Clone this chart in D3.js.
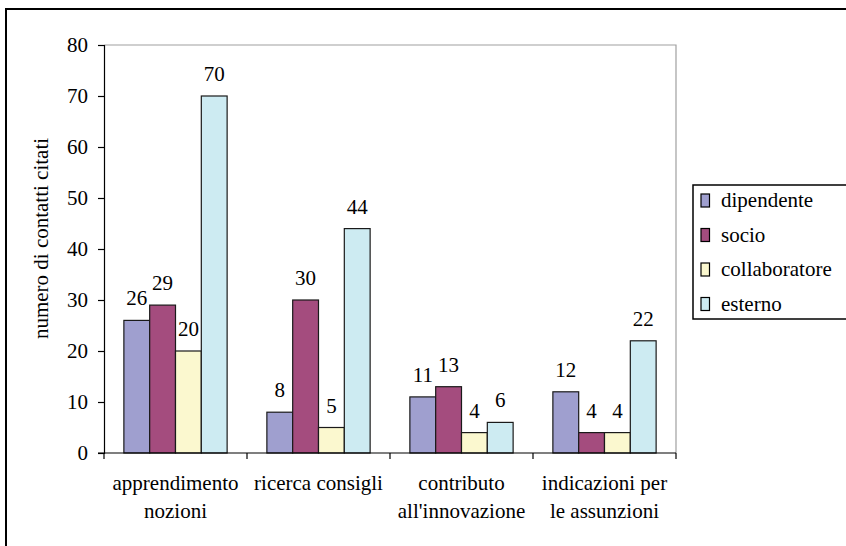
<!DOCTYPE html>
<html><head><meta charset="utf-8">
<script src="https://cdn.jsdelivr.net/npm/d3@7"></script>
<style>
body{margin:0;background:#fff;}
svg text{font-family:"Liberation Serif","Times New Roman",Times,"Nimbus Roman","DejaVu Serif",serif !important;fill:#000;}
</style></head>
<body><svg id="c" width="846" height="546"></svg>
<script>
const categories = [["apprendimento","nozioni"],["ricerca consigli"],["contributo","all'innovazione"],["indicazioni per","le assunzioni"]];
const categoryKeys = ["apprendimento nozioni","ricerca consigli","contributo all'innovazione","indicazioni per le assunzioni"];
const seriesNames = ["dipendente","socio","collaboratore","esterno"];
const dipendente = [26, 8, 11, 12];
const socio = [29, 30, 13, 4];
const collaboratore = [20, 5, 4, 4];
const esterno = [70, 44, 6, 22];
const yTicks = [0,10,20,30,40,50,60,70,80];
const colors = ["#9f9fcf","#a44c7e","#fbf8cf","#cdebf2"];
const values = [dipendente, socio, collaboratore, esterno];
const FONT = "'Liberation Serif','Times New Roman',Times,serif";

const svg = d3.select("#c");
svg.append("rect").attr("x",6).attr("y",9).attr("width",900).attr("height",600)
  .attr("fill","none").attr("stroke","#000").attr("stroke-width",2);

const L=104,R=676,T=45,B=453;
const x0 = d3.scaleBand().domain(categoryKeys).range([L,R]).padding(0);
const x1 = d3.scaleBand().domain(seriesNames).range([0,x0.bandwidth()]).paddingInner(0).paddingOuter(0.77);
const y = d3.scaleLinear().domain([0,80]).range([B,T]);

svg.append("path").attr("d",`M${L},${T}H${R}V${B}`).attr("fill","none").attr("stroke","#a0a0a0").attr("stroke-width",1.2);

categoryKeys.forEach((c,ci)=>{
  const g = svg.append("g").attr("transform",`translate(${x0(c)},0)`);
  seriesNames.forEach((s,si)=>{
    const v = values[si][ci];
    g.append("rect").attr("x",x1(s)).attr("y",y(v)).attr("width",x1.bandwidth()).attr("height",y(0)-y(v))
      .attr("fill",colors[si]).attr("stroke","#1a1a1a").attr("stroke-width",1.2);
    g.append("text").attr("x",x1(s)+x1.bandwidth()/2).attr("y",y(v)-15).attr("text-anchor","middle")
      .style("font-family",FONT).attr("font-size",21).text(v);
  });
});

const ya = svg.append("g").attr("transform",`translate(${L},0)`)
  .call(d3.axisLeft(y).tickValues(yTicks).tickSize(6).tickPadding(10).tickFormat(d3.format("d")));
ya.attr("font-family",null);
ya.select(".domain").attr("stroke","#000").attr("stroke-width",1.2);
ya.selectAll(".tick line").attr("stroke","#000").attr("stroke-width",1.2);
ya.selectAll(".tick text").attr("font-size",21).style("font-family",FONT).attr("fill","#000");

svg.append("line").attr("x1",L-6).attr("x2",R).attr("y1",B).attr("y2",B).attr("stroke","#000").attr("stroke-width",1.2);
const bounds = categoryKeys.map(c=>x0(c)).concat([x0(categoryKeys[3])+x0.bandwidth()]);
svg.selectAll(".xt").data(bounds).enter().append("line")
  .attr("x1",d=>d).attr("x2",d=>d).attr("y1",B).attr("y2",B+6).attr("stroke","#000").attr("stroke-width",1.2);
categoryKeys.forEach((c,ci)=>{
  const t = svg.append("text").attr("text-anchor","middle").attr("font-size",21).style("font-family",FONT);
  categories[ci].forEach((line,li)=>{
    t.append("tspan").attr("x",x0(c)+x0.bandwidth()/2).attr("y",490+li*28).text(line);
  });
});

svg.append("text").attr("transform","translate(48,238.5) rotate(-90)").attr("text-anchor","middle")
  .style("font-family",FONT).attr("font-size",21).text("numero di contatti citati");

svg.append("rect").attr("x",693).attr("y",185).attr("width",200).attr("height",134)
  .attr("fill","#fff").attr("stroke","#000").attr("stroke-width",1.5);
seriesNames.forEach((s,i)=>{
  const by = 207 + i*34.5;
  svg.append("rect").attr("x",701).attr("y",by-13).attr("width",8.5).attr("height",13)
    .attr("fill",colors[i]).attr("stroke","#000").attr("stroke-width",1.2);
  svg.append("text").attr("x",721).attr("y",by).style("font-family",FONT).attr("font-size",21).text(s);
});
</script></body></html>
